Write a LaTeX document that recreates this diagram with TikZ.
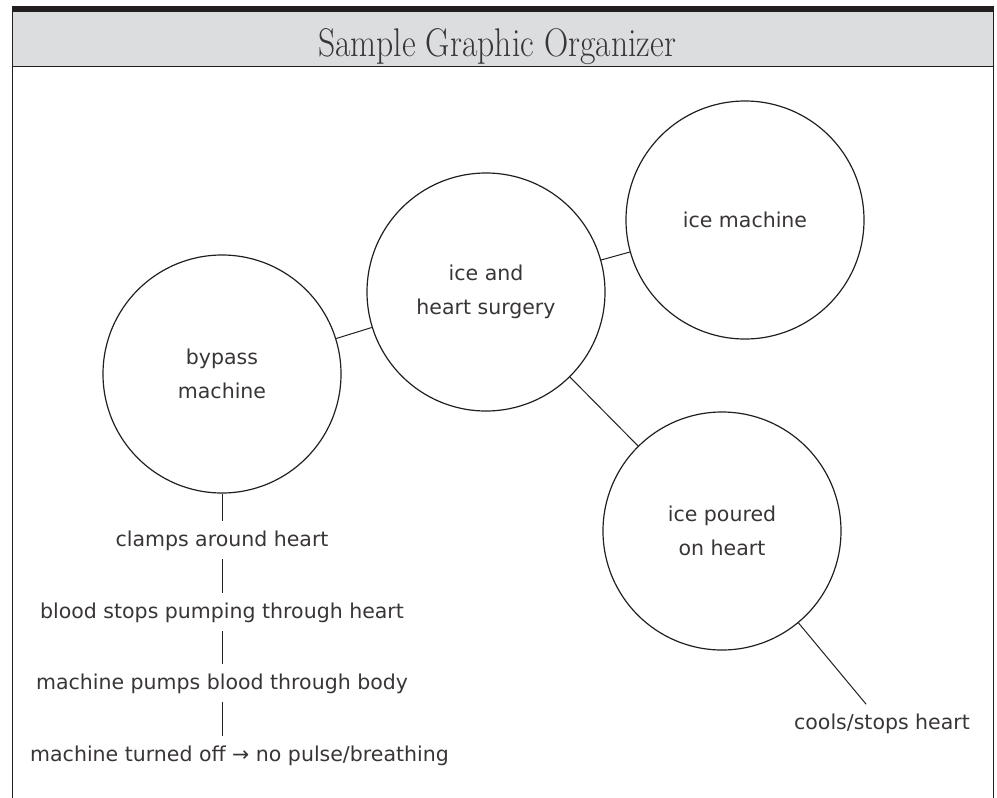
\documentclass[tikz,border=0pt]{standalone}
\usepackage{fontspec}
\setmainfont{DejaVu Sans}
\newfontfamily\titlefont{Latin Modern Roman}
\usetikzlibrary{positioning}
\definecolor{ink}{HTML}{231F20}
\definecolor{band}{HTML}{DCDDDF}

\begin{document}
\begin{tikzpicture}[
  x=1pt, y=-1pt,
  every node/.style={text=ink!90, font=\fontsize{20.5}{34}\selectfont},
  bubble/.style={circle, draw=ink, line width=1.2pt, minimum size=238pt, inner sep=0pt, align=center},
  note/.style={inner sep=9pt, anchor=base},
  link/.style={draw=ink, line width=1pt}
]
\useasboundingbox (0,0) rectangle (997,798);
\fill[band] (12,12) rectangle (994,66);
\fill[ink] (12,6) rectangle (994,12);
\draw[ink, line width=1.5pt] (12.5,6) -- (12.5,798) (993.5,6) -- (993.5,798);
\draw[ink, line width=1.2pt] (12,66.5) -- (994,66.5);
\node[anchor=base] (title) at (497,56.7) {\titlefont\fontsize{40}{40}\selectfont\scalebox{0.84}[1]{Sample Graphic Organizer}};

\node[bubble] (bypass) at (222,374) {bypass\\machine};
\node[bubble] (surgery) at (486,292) {ice and\\heart surgery};
\node[bubble] (icemachine) at (745,220) {ice machine};
\node[bubble] (poured) at (722,531) {ice poured\\on heart};

\node[note] (clamps) at (222,546) {clamps around heart};
\node[note] (stops) at (222,618) {blood stops pumping through heart};
\node[note] (pumps) at (222,689) {machine pumps blood through body};
\node[note, anchor=base west] (turnedoff) at (21,761) {machine turned off → no pulse/breathing};
\node[note] (cools) at (882,729) {cools/stops heart};

\draw[link] (bypass) -- (surgery);
\draw[link] (surgery) -- (icemachine);
\draw[link] (surgery) -- (poured);
\draw[link] (poured) -- (cools);
\draw[link] (bypass.south) -- (clamps.north);
\draw[link] (clamps) -- (stops);
\draw[link] (stops) -- (pumps);
\draw[link] (pumps.south) -- (pumps.south |- turnedoff.north);
\end{tikzpicture}
\end{document}
